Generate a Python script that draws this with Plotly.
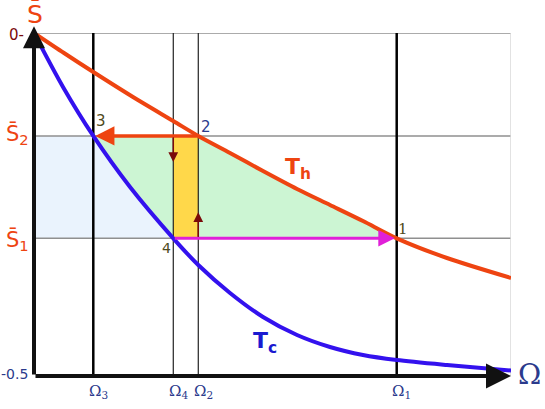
import plotly.graph_objects as go

# cycle points on the Omega axis (0..1) and the two entropy levels
omega_1 = 0.7604
omega_2 = 0.3444
omega_3 = 0.1243
omega_4 = 0.2920
s_1 = -0.2993
s_2 = -0.1501

# hot isotherm Th
th_x = [0, 0.0629, 0.1243, 0.2075, 0.2920, 0.3444, 0.4109, 0.4801, 0.5514, 0.6205, 0.6897, 0.7604, 0.8658, 1.0]
th_y = [0, -0.0292, -0.0569, -0.0933, -0.1283, -0.1501, -0.1749, -0.2012, -0.2274, -0.2507, -0.2741, -0.2993, -0.3280, -0.3571]
# cold isotherm Tc
tc_x = [0, 0.0608, 0.1243, 0.2013, 0.2920, 0.3444, 0.4109, 0.4801, 0.5514, 0.6205, 0.6897, 0.7604, 0.8658, 1.0]
tc_y = [0, -0.0787, -0.1501, -0.2245, -0.2993, -0.3382, -0.3790, -0.4140, -0.4402, -0.4577, -0.4694, -0.4767, -0.4840, -0.4920]

ORANGE = "#ee4411"
BLUE = "#3311ee"
NAVY = "#2b3a8c"
OLIVE = "#4f4a20"
MAROON = "#7a0a0a"
GRAY = "#8f8f8f"

fig = go.Figure()

# light blue band between the y axis and Tc
tc_mid = [(x, y) for x, y in zip(tc_x, tc_y) if omega_3 <= x <= omega_4]
bx = [0] + [p[0] for p in tc_mid] + [0]
by = [s_2] + [p[1] for p in tc_mid] + [s_1]
fig.add_trace(go.Scatter(x=bx, y=by, fill="toself", fillcolor="#eaf3fd",
                         line=dict(width=0), mode="lines", hoverinfo="skip"))

# green area between the isotherms
th_mid = [(x, y) for x, y in zip(th_x, th_y) if omega_2 <= x <= omega_1]
gx = [omega_3] + [p[0] for p in th_mid] + [p[0] for p in tc_mid][::-1]
gy = [s_2] + [p[1] for p in th_mid] + [p[1] for p in tc_mid][::-1]
fig.add_trace(go.Scatter(x=gx, y=gy, fill="toself", fillcolor="#ccf5d3",
                         line=dict(width=0), mode="lines", hoverinfo="skip"))

# yellow strip
fig.add_trace(go.Scatter(x=[omega_4, omega_2, omega_2, omega_4], y=[s_2, s_2, s_1, s_1],
                         fill="toself", fillcolor="#ffd84a", line=dict(width=0),
                         mode="lines", hoverinfo="skip"))

# grid lines
for yv in [0, s_2, s_1]:
    fig.add_trace(go.Scatter(x=[0, 1], y=[yv, yv], mode="lines",
                             line=dict(color=GRAY, width=1.5), hoverinfo="skip"))
fig.add_trace(go.Scatter(x=[1, 1], y=[0, -0.5], mode="lines",
                         line=dict(color="#d8d8d8", width=1.5), hoverinfo="skip"))
for xv, w, c in [(omega_3, 2.5, "black"), (omega_1, 2.5, "black"),
                 (omega_4, 1.2, "#222222"), (omega_2, 1.2, "#222222")]:
    fig.add_trace(go.Scatter(x=[xv, xv], y=[0, -0.5], mode="lines",
                             line=dict(color=c, width=w), hoverinfo="skip"))

# isotherms
fig.add_trace(go.Scatter(x=th_x, y=th_y, mode="lines",
                         line=dict(color=ORANGE, width=4, shape="spline", smoothing=0.8),
                         hoverinfo="skip"))
fig.add_trace(go.Scatter(x=tc_x, y=tc_y, mode="lines",
                         line=dict(color=BLUE, width=4, shape="spline", smoothing=0.8),
                         hoverinfo="skip"))


def arrow(x, y, ax, ay, color, width, size):
    fig.add_annotation(x=x, y=y, ax=ax, ay=ay, xref="x", yref="y", axref="x", ayref="y",
                       text="", showarrow=True, arrowhead=2, arrowsize=size,
                       arrowwidth=width, arrowcolor=color)


# axes
arrow(0, 0.010, 0, -0.5, "#111111", 4, 1.1)
arrow(1.0, -0.5, 0, -0.5, "#111111", 4, 1.25)
# process arrows
arrow(omega_3 + 0.004, s_2, omega_2, s_2, ORANGE, 3.5, 1.1)
arrow(omega_1 - 0.004, s_1, omega_4, s_1, "#e020d8", 3, 1.1)
arrow(omega_4, s_2 - 0.038, omega_4, s_2, MAROON, 1.5, 1.3)
arrow(omega_2, s_1 + 0.038, omega_2, s_1, MAROON, 1.5, 1.3)

W, H = 545, 409
L, T, PW, PH = 34, 33, 477, 343


def at(px, py, text, color, size, family="DejaVu Sans"):
    fig.add_annotation(x=(px - L) / PW, y=1 - (py - T) / PH, xref="paper", yref="paper",
                       text=text, showarrow=False, xanchor="center", yanchor="middle",
                       font=dict(color=color, size=size, family=family))


at(35, 14, "S\u0304", ORANGE, 25)
at(16, 35, "0-", MAROON, 15)
at(14, 374, "-0.5", NAVY, 14)
at(17, 134, "S\u0304<sub>2</sub>", ORANGE, 21)
at(17, 240, "S\u0304<sub>1</sub>", ORANGE, 21)
at(529, 374, "\u03a9", NAVY, 28, "DejaVu Serif")
for xv, sub in [(omega_3, "3"), (omega_4, "4"), (omega_2, "2"), (omega_1, "1")]:
    at(L + xv * PW + 5, 391, "\u03a9<sub>" + sub + "</sub>", NAVY, 15, "DejaVu Serif")

at(101, 121, "3", OLIVE, 15)
at(206, 127, "2", NAVY, 15)
at(403, 229, "1", OLIVE, 15, "DejaVu Serif")
at(166, 248, "4", OLIVE, 14)
at(298, 168, "<b>T</b><sub><b>h</b></sub>", ORANGE, 22)
at(265, 342, "<b>T</b><sub><b>c</b></sub>", "#1a1ad0", 22)

fig.update_layout(
    width=W, height=H, showlegend=False,
    margin=dict(l=L, r=W - L - PW, t=T, b=H - T - PH),
    paper_bgcolor="white", plot_bgcolor="white",
    xaxis=dict(range=[0, 1], visible=False, fixedrange=True),
    yaxis=dict(range=[-0.5, 0], visible=False, fixedrange=True),
)

fig.write_html("out.html", config={"displayModeBar": False},
               post_script="document.body.style.margin='0';")
